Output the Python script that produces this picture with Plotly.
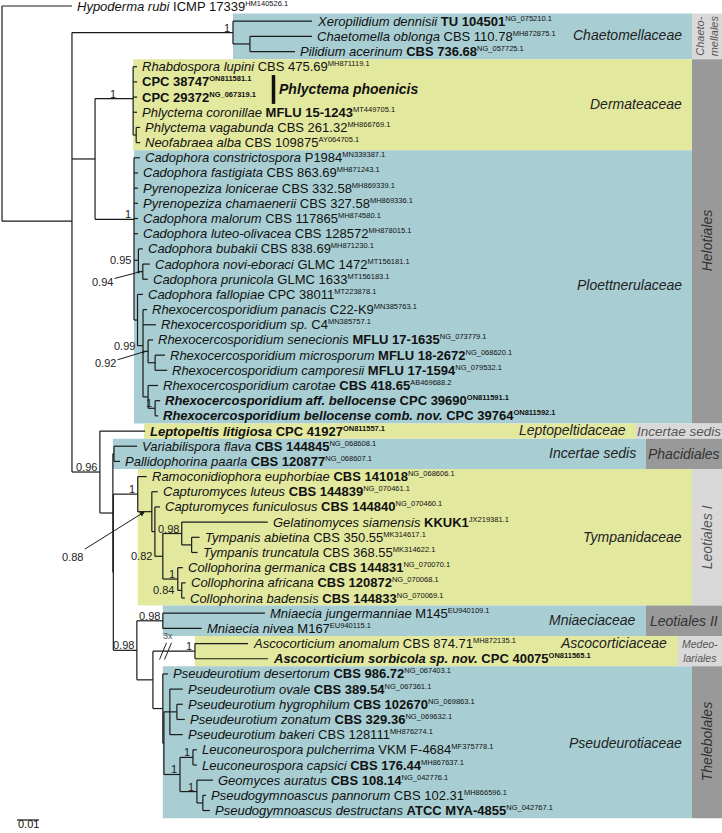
import plotly.graph_objects as go

# ---------------- data ----------------
leaf_species = [
    "Hypoderma rubi", "Xeropilidium dennisii", "Chaetomella oblonga", "Pilidium acerinum",
    "Rhabdospora lupini", "", "", "Phlyctema coronillae", "Phlyctema vagabunda", "Neofabraea alba",
    "Cadophora constrictospora", "Cadophora fastigiata", "Pyrenopeziza lonicerae", "Pyrenopeziza chamaenerii",
    "Cadophora malorum", "Cadophora luteo-olivacea", "Cadophora bubakii", "Cadophora novi-eboraci",
    "Cadophora prunicola", "Cadophora fallopiae", "Rhexocercosporidium panacis", "Rhexocercosporidium sp.",
    "Rhexocercosporidium senecionis", "Rhexocercosporidium microsporum", "Rhexocercosporidium camporesii",
    "Rhexocercosporidium carotae", "Rhexocercosporidium aff. bellocense",
    "Rhexocercosporidium bellocense comb. nov.",
    "Leptopeltis litigiosa", "Variabilispora flava", "Pallidophorina paarla", "Ramoconidiophora euphorbiae",
    "Capturomyces luteus", "Capturomyces funiculosus", "Gelatinomyces siamensis", "Tympanis abietina",
    "Tympanis truncatula", "Collophorina germanica", "Collophorina africana", "Collophorina badensis",
    "Mniaecia jungermanniae", "Mniaecia nivea", "Ascocorticium anomalum", "Ascocorticium sorbicola sp. nov.",
    "Pseudeurotium desertorum", "Pseudeurotium ovale", "Pseudeurotium hygrophilum", "Pseudeurotium zonatum",
    "Pseudeurotium bakeri", "Leuconeurospora pulcherrima", "Leuconeurospora capsici", "Geomyces auratus",
    "Pseudogymnoascus pannorum", "Pseudogymnoascus destructans"]

leaf_strain = [
    "ICMP 17339", "TU 104501", "CBS 110.78", "CBS 736.68", "CBS 475.69", "CPC 38747", "CPC 29372",
    "MFLU 15-1243", "CBS 261.32", "CBS 109875", "P1984", "CBS 863.69", "CBS 332.58", "CBS 327.58",
    "CBS 117865", "CBS 128572", "CBS 838.69", "GLMC 1472", "GLMC 1633", "CPC 38011", "C22-K9", "C4",
    "MFLU 17-1635", "MFLU 18-2672", "MFLU 17-1594", "CBS 418.65", "CPC 39690", "CPC 39764", "CPC 41927",
    "CBS 144845", "CBS 120877", "CBS 141018", "CBS 144839", "CBS 144840", "KKUK1", "CBS 350.55",
    "CBS 368.55", "CBS 144831", "CBS 120872", "CBS 144833", "M145", "M167", "CBS 874.71", "CPC 40075",
    "CBS 986.72", "CBS 389.54", "CBS 102670", "CBS 329.36", "CBS 128111", "VKM F-4684", "CBS 176.44",
    "CBS 108.14", "CBS 102.31", "ATCC MYA-4855"]

leaf_accession = [
    "HM140526.1", "NG_075210.1", "MH872875.1", "NG_057725.1", "MH871119.1", "ON811581.1", "NG_067319.1",
    "MT449705.1", "MH866769.1", "AY064705.1", "MN339387.1", "MH871243.1", "MH869339.1", "MH869336.1",
    "MH874580.1", "MH878015.1", "MH871230.1", "MT156181.1", "MT156183.1", "MT223878.1", "MN385763.1",
    "MN385757.1", "NG_073779.1", "NG_068620.1", "NG_079532.1", "AB469688.2", "ON811591.1", "ON811592.1",
    "ON811557.1", "NG_068608.1", "NG_068607.1", "NG_068606.1", "NG_070461.1", "NG_070460.1", "JX219381.1",
    "MK314617.1", "MK314622.1", "NG_070070.1", "NG_070068.1", "NG_070069.1", "EU940109.1", "EU940115.1",
    "MH872135.1", "ON811565.1", "NG_067403.1", "NG_067361.1", "NG_069863.1", "NG_069632.1", "MH876274.1",
    "MF375778.1", "MH867637.1", "NG_042776.1", "MH866596.1", "NG_042767.1"]

bold_species = [26, 27, 28, 43]
bold_strain = [1, 3, 5, 6, 7, 22, 23, 24, 25, 26, 27, 28, 29, 30, 31, 32, 33, 34, 37, 38, 39, 43,
               44, 45, 46, 47, 50, 51, 53]
bold_accession = [5, 6, 26, 27, 28, 43]

leaf_parent = [
    "R", "C1", "C2", "C2", "D", "D", "D", "D", "D2", "D2", "P", "P", "P", "P", "P", "P", "B1", "N094",
    "N094", "P2", "RX", "RX", "S", "MC", "MC", "CG", "BB", "BB", "L", "Phac", "Phac", "LeoI", "N088", "X",
    "G098", "Tymp", "Tymp", "Coll", "C084", "C084", "Mn", "Mn", "Asc", "Asc", "T", "PS", "HZ", "HZ", "PS",
    "LP", "LP", "GP", "PD", "PD"]

leaf_branch = [
    0.0318, 0.0359, 0.0282, 0.0205, 0.0018, 0.0018, 0.0018, 0.0018, 0.0018, 0.0018,
    0.0027, 0.0018, 0.0018, 0.0018, 0.0018, 0.0018, 0.0020, 0.0032, 0.0023, 0.0025,
    0.0018, 0.0059, 0.0023, 0.0045, 0.0055, 0.0045, 0.0023, 0.0014, 0.0205, 0.0105,
    0.0027, 0.0041, 0.0027, 0.0023, 0.0391, 0.0036, 0.0027, 0.0023, 0.0018, 0.0014,
    0.0464, 0.0177, 0.0241, 0.0332, 0.0023, 0.0059, 0.0027, 0.0036, 0.0059, 0.0018,
    0.0018, 0.0073, 0.0014, 0.0032]

node_names = ["R", "N1", "C1", "C2", "H", "D", "D2", "P", "B1", "N094", "P2", "RX", "S", "MC", "CG",
              "BB", "L", "M", "Phac", "K", "LeoI", "N088", "X", "N082", "G098", "Tymp", "Coll", "C084",
              "N098b", "Mn", "A", "Asc", "T", "U", "PS", "HZ", "LG", "LP", "GP", "PD"]
node_parent = [None, "R", "N1", "C1", "N1", "H", "D", "H", "P", "B1", "P", "P2", "RX", "S", "RX",
               "CG", "N1", "L", "M", "M", "K", "LeoI", "N088", "X", "N082", "G098", "N082", "Coll",
               "K", "N098b", "N098b", "A", "A", "T", "U", "PS", "U", "LG", "LG", "GP"]
node_branch = [0.0, 0.0318, 0.0732, 0.0077, 0.0105, 0.0173, 0.0014, 0.0177, 0.0020, 0.0020,
               0.0016, 0.0025, 0.0023, 0.0032, 0.0023, 0.0032, 0.0127, 0.0059, 0.0005, 0.0002, 0.0111,
               0.0064, 0.0014, 0.0036, 0.0086, 0.0045, 0.0068, 0.0018, 0.0107, 0.0118, 0.0073, 0.0191,
               0.0045, 0.0005, 0.0027, 0.0032, 0.0073, 0.0059, 0.0077, 0.0027]
node_support = {"C1": "1", "D": "1", "P": "1", "B1": "0.95", "N094": "0.94", "RX": "0.99", "S": "0.92",
                "BB": "1", "L": "0.96", "LeoI": "1", "N088": "0.88", "N082": "0.82", "G098": "0.98",
                "Coll": "1", "C084": "0.84", "N098b": "0.98", "Mn": "0.98", "Asc": "1", "LG": "1",
                "LP": "1", "GP": "1"}

family_names = ["Chaetomellaceae", "Dermateaceae", "Ploettnerulaceae", "Leptopeltidaceae", "Incertae sedis",
                "Tympanidaceae", "Mniaeciaceae", "Ascocorticiaceae", "Pseudeurotiaceae"]
family_first = [1, 4, 10, 28, 29, 31, 40, 42, 44]
family_last = [3, 9, 27, 28, 30, 39, 41, 43, 53]
family_node = ["C1", "D", "P", None, "M", "LeoI", "Mn", "Asc", "T"]

order_names = ["Chaeto-<br>mellales", "Helotiales", "Incertae sedis", "Phacidiales", "Leotiales I",
               "Leotiales II", "Medeo-<br>lariales", "Thelebolales"]
order_first = [1, 4, 28, 29, 31, 40, 42, 44]
order_last = [3, 27, 28, 30, 39, 41, 43, 53]

scale_bar_value = 0.01

# ---------------- layout constants (pixels) ----------------
W, H = 722, 833
X0, SCALE = 2.0, 2200.0      # root pixel x, pixels per substitution
Y0, ROW = 6.0, 15.18         # first row pixel y, row spacing


def xpx(p):
    return (p - X0) / SCALE


def ypx(q):
    return (q - Y0) / ROW


BLUE, YELLOW, DARK, LIGHT = "#a8ced3", "#e3e89f", "#999999", "#d9d9d9"
FONT = "Liberation Sans, Arial, sans-serif"
LINE = "#1a1a1a"

family_color = [BLUE, YELLOW, BLUE, YELLOW, BLUE, YELLOW, BLUE, YELLOW, BLUE]
family_right = [692, 692, 692, 636, 646, 692, 646, 678, 692]
family_label_y = [35, 104, 285, 430, 453, 537, 620, 643, 743]
family_label_x = [684, 684, 684, 628, 638, 684, 638, 669, 684]

order_left = [692, 692, 636, 646, 692, 646, 678, 692]
order_color = [LIGHT, DARK, LIGHT, DARK, LIGHT, DARK, LIGHT, DARK]
order_angle = [-90, -90, 0, 0, -90, 0, 0, -90]
order_size = [11, 14, 13.5, 14, 14, 14, 10.5, 14]

# ---------------- tree geometry ----------------
children = {n: [] for n in node_names}
for n, p in zip(node_names, node_parent):
    if p is not None:
        children[p].append(("n", n))
for i, p in enumerate(leaf_parent):
    children[p].append(("l", i))

nx = {}
for n, p, b in zip(node_names, node_parent, node_branch):
    nx[n] = 0.0 if p is None else nx[p] + b
lx = [nx[p] + b for p, b in zip(leaf_parent, leaf_branch)]

ny = {}


def gety(kind, ref):
    if kind == "l":
        return float(ref)
    if ref not in ny:
        ys = [gety(k, r) for k, r in children[ref]]
        ny[ref] = sum(ys) / len(ys)
    return ny[ref]


for n in node_names:
    gety("n", n)

xs, ys = [], []


def seg(x0, y0, x1, y1):
    xs.extend([x0, x1, None])
    ys.extend([y0, y1, None])


for n, p in zip(node_names, node_parent):
    if p is not None:
        seg(nx[p], ny[n], nx[n], ny[n])
    cy = [gety(k, r) for k, r in children[n]]
    seg(nx[n], min(cy), nx[n], max(cy))
for i, p in enumerate(leaf_parent):
    seg(nx[p], i, lx[i], i)

fig = go.Figure()
fig.add_trace(go.Scatter(x=xs, y=ys, mode="lines", line=dict(color=LINE, width=1.2),
                         hoverinfo="skip", showlegend=False))

shapes = []
annotations = []

# family boxes
for k, name in enumerate(family_names):
    left = nx[family_node[k]] if family_node[k] else lx[family_first[k]] - 1 / SCALE
    shapes.append(dict(type="rect", xref="x", yref="y", x0=left, x1=xpx(family_right[k]),
                       y0=family_first[k] - 0.5, y1=family_last[k] + 0.5,
                       fillcolor=family_color[k], line=dict(width=0), layer="below"))
    annotations.append(dict(x=xpx(family_label_x[k]), y=ypx(family_label_y[k]), xref="x", yref="y",
                            text=f"<i>{name}</i>", showarrow=False, xanchor="right", yanchor="middle",
                            font=dict(family=FONT, size=14, color="#222")))

# order boxes
for k, name in enumerate(order_names):
    shapes.append(dict(type="rect", xref="x", yref="y", x0=xpx(order_left[k]), x1=xpx(W),
                       y0=order_first[k] - 0.5, y1=order_last[k] + 0.5,
                       fillcolor=order_color[k], line=dict(width=0), layer="below"))
    annotations.append(dict(x=xpx((order_left[k] + W) / 2), y=(order_first[k] + order_last[k]) / 2,
                            xref="x", yref="y", text=f"<i>{name}</i>", showarrow=False,
                            textangle=order_angle[k], xanchor="center", yanchor="middle",
                            font=dict(family=FONT, size=order_size[k],
                                      color="#555" if order_color[k] == LIGHT else "#333")))

# leaf labels (accession raised as a small superscript)
SUP = "font-size:7.5px;baseline-shift:5px"
for i in range(len(leaf_strain)):
    parts = []
    if leaf_species[i]:
        s = f"<i>{leaf_species[i]}</i>"
        if i in bold_species:
            s = f"<b>{s}</b>"
        parts.append(s)
    st = leaf_strain[i]
    if i in bold_strain:
        st = f"<b>{st}</b>"
    parts.append(st)
    acc = f"<span style='{SUP}'>{leaf_accession[i]}</span>"
    if i in bold_accession:
        acc = f"<b>{acc}</b>"
    text = " ".join(parts) + acc
    annotations.append(dict(x=lx[i], y=i, xref="x", yref="y", text=text, showarrow=False,
                            xanchor="left", yanchor="middle", xshift=3,
                            font=dict(family=FONT, size=13, color="#111")))

# support values
label_style = {"D": dict(xshift=-15), "B1": dict(xshift=-5, yshift=0), "RX": dict(xshift=-6, yshift=0),
               "N082": dict(xshift=-9, yshift=0), "C084": dict(xshift=-6, yshift=0)}
arrow_offset = {"N094": (-38, 10), "S": (-40, 12), "N088": (-72, 45)}
parent_of = dict(zip(node_names, node_parent))
for n, sv in node_support.items():
    if n in arrow_offset:
        ax, ay = arrow_offset[n]
        annotations.append(dict(x=(nx[parent_of[n]] + nx[n]) / 2, y=ny[n], xref="x", yref="y",
                                text=sv, showarrow=True, ax=ax, ay=ay, arrowhead=2,
                                arrowsize=1 if n == "N088" else 0.6, arrowwidth=1, arrowcolor=LINE,
                                font=dict(family=FONT, size=11, color="#222")))
        continue
    st = dict(xshift=-1, yshift=5)
    st.update(label_style.get(n, {}))
    annotations.append(dict(x=nx[n], y=ny[n], xref="x", yref="y", text=sv, showarrow=False,
                            xanchor="right", yanchor="middle", font=dict(family=FONT, size=11, color="#222"),
                            **st))

# Phlyctema phoenicis bracket
shapes.append(dict(type="line", xref="x", yref="y", x0=xpx(273.5), x1=xpx(273.5), y0=5 - 0.45, y1=6 + 0.45,
                   line=dict(color="#111", width=3.5)))
annotations.append(dict(x=xpx(277), y=5.5, xref="x", yref="y", text="<b><i>Phlyctema phoenicis</i></b>",
                        showarrow=False, xanchor="left", yanchor="middle",
                        font=dict(family=FONT, size=14, color="#111")))

# branch break on Ascocorticiaceae stem
ya = ny["Asc"]
cx = nx["A"] + 0.3 * (nx["Asc"] - nx["A"])
for off in (-2.5, 2.5):
    shapes.append(dict(type="line", xref="x", yref="y", x0=cx + (off - 3.5) / SCALE, y0=ya + 0.55,
                       x1=cx + (off + 3.5) / SCALE, y1=ya - 0.55, line=dict(color="#222", width=1)))
annotations.append(dict(x=cx + 2 / SCALE, y=ya - 1.0, xref="x", yref="y", text="3x", showarrow=False,
                        font=dict(family=FONT, size=9, color="#555")))

# scale bar
sb_x0 = xpx(17)
shapes.append(dict(type="line", xref="x", yref="y", x0=sb_x0, x1=sb_x0 + scale_bar_value,
                   y0=ypx(820), y1=ypx(820), line=dict(color="#111", width=1.2)))
annotations.append(dict(x=sb_x0 + scale_bar_value / 2, y=ypx(832), xref="x", yref="y",
                        text=f"{scale_bar_value:.2f}", showarrow=False, yanchor="bottom",
                        font=dict(family=FONT, size=11, color="#111")))

fig.update_layout(width=W, height=H, margin=dict(l=0, r=0, t=0, b=0),
                  paper_bgcolor="white", plot_bgcolor="white", showlegend=False,
                  xaxis=dict(range=[xpx(0), xpx(W)], visible=False, fixedrange=True),
                  yaxis=dict(range=[ypx(H), ypx(0)], visible=False, fixedrange=True),
                  shapes=shapes, annotations=annotations)
fig.write_html("out.html", config={"displayModeBar": False, "staticPlot": True},
               post_script="document.body.style.margin='0px';document.body.style.overflow='hidden';")
